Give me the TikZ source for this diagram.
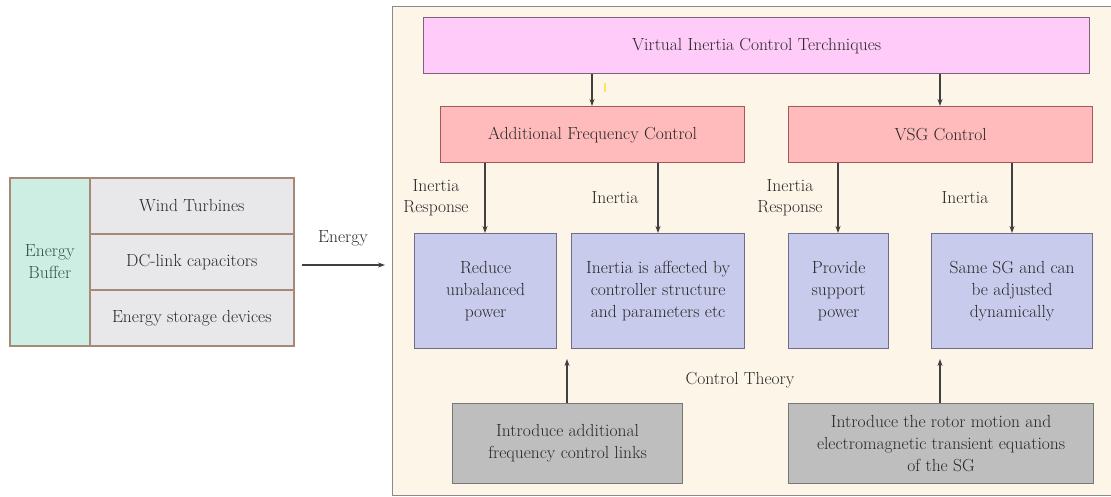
\documentclass[tikz,border=0pt]{standalone}
\usetikzlibrary{arrows.meta}
\definecolor{cream}{HTML}{FDF5E8}
\definecolor{outerline}{HTML}{8A8A8A}
\definecolor{topfill}{HTML}{FFCCF9}
\definecolor{topline}{HTML}{806080}
\definecolor{redfill}{HTML}{FFBBBB}
\definecolor{redline}{HTML}{A05A5A}
\definecolor{bluefill}{HTML}{C9CBEC}
\definecolor{blueline}{HTML}{6E6E8A}
\definecolor{grayfill}{HTML}{BEBEBE}
\definecolor{grayline}{HTML}{777777}
\definecolor{cellfill}{HTML}{E8E8EA}
\definecolor{cellline}{HTML}{A88878}
\definecolor{mint}{HTML}{CDEFE3}
\definecolor{txt}{HTML}{282828}
\definecolor{buftxt}{HTML}{2F5248}
\definecolor{arrowc}{HTML}{404040}
\tikzset{
  base/.style={draw, anchor=north west, align=center, inner sep=0pt, line width=1.2pt,
    font=\fontsize{17.5}{22}\selectfont, text=txt},
  outerbox/.style={base, draw=outerline, fill=cream, line width=1.3pt},
  topbox/.style={base, draw=topline, fill=topfill},
  redbox/.style={base, draw=redline, fill=redfill},
  bluebox/.style={base, draw=blueline, fill=bluefill},
  graybox/.style={base, draw=grayline, fill=grayfill},
  cellbox/.style={base, draw=cellline, fill=cellfill, line width=1.6pt},
  bufbox/.style={base, draw=cellline, fill=mint, line width=1.6pt, text=buftxt},
  lbl/.style={align=center, inner sep=0pt, font=\fontsize{17.5}{21}\selectfont, text=txt},
  arr/.style={draw=arrowc, line width=1.1pt, -{Stealth[length=7pt,width=5pt]}}
}
\begin{document}
\begin{tikzpicture}[x=1pt,y=-1pt]
\useasboundingbox (0,0) rectangle (1111,497);
\fill[white] (0,0) rectangle (1111,497);

% left table
\node[bufbox, minimum width=80pt, minimum height=168pt] (buf) at (9,177) {Energy\\Buffer};
\node[cellbox, minimum width=204pt, minimum height=56pt] (wt) at (89,177) {Wind Turbines};
\node[cellbox, minimum width=204pt, minimum height=56pt] (dc) at (89,233) {DC-link capacitors};
\node[cellbox, minimum width=204pt, minimum height=56pt] (es) at (89,289) {Energy storage devices};

% outer box
\node[outerbox, minimum width=724pt, minimum height=489pt] (outer) at (392,6) {};

% energy arrow
\coordinate (ey) at (0,265);
\draw[arr] ([xshift=7pt]dc.east |- ey) -- ([xshift=-7pt]outer.west |- ey);
\node[lbl] (energy) at (343,238) {Energy};

% top level
\node[topbox, minimum width=666pt, minimum height=56pt] (top) at (423,17) {Virtual Inertia Control Terchniques};
\node[redbox, minimum width=304pt, minimum height=56pt] (afc) at (440,106) {Additional Frequency Control};
\node[redbox, minimum width=304pt, minimum height=56pt] (vsg) at (788,106) {VSG Control};

% blue boxes
\node[bluebox, minimum width=142pt, minimum height=115pt] (b1) at (414,233) {Reduce\\unbalanced\\power};
\node[bluebox, minimum width=173pt, minimum height=115pt] (b2) at (571,233) {Inertia is affected by\\controller structure\\and parameters etc};
\node[bluebox, minimum width=100pt, minimum height=115pt] (b3) at (788,233) {Provide\\support\\power};
\node[bluebox, minimum width=161pt, minimum height=115pt] (b4) at (931,233) {Same SG and can\\be adjusted\\dynamically};

% gray boxes
\node[graybox, minimum width=230pt, minimum height=80pt] (g1) at (452,403) {Introduce additional\\frequency control links};
\node[graybox, minimum width=305pt, minimum height=80pt] (g2) at (788,403) {Introduce the rotor motion and\\electromagnetic transient equations\\of the SG};

% columns
\coordinate (c1) at (592,0);
\coordinate (c2) at (940,0);
\coordinate (c3) at (485,0);
\coordinate (c4) at (658,0);
\coordinate (c5) at (838,0);
\coordinate (c6) at (1012,0);
\coordinate (c7) at (567,0);
\coordinate (tipy) at (0,359);

\draw[arr] (top.south -| c1) -- (afc.north -| c1);
\draw[arr] (top.south -| c2) -- (vsg.north -| c2);
\draw[arr] (afc.south -| c3) -- (b1.north -| c3);
\draw[arr] (afc.south -| c4) -- (b2.north -| c4);
\draw[arr] (vsg.south -| c5) -- (b3.north -| c5);
\draw[arr] (vsg.south -| c6) -- (b4.north -| c6);

\coordinate (t1) at (c7 |- tipy);
\coordinate (t2) at (c2 |- tipy);
\draw[arr] (g1.north -| c7) -- (t1);
\draw[arr] (g2.north -| c2) -- (t2);

% labels
\node[lbl] (l1) at (436,198) {Inertia\\Response};
\node[lbl] (l2) at (615,198) {Inertia};
\node[lbl] (l3) at (790,198) {Inertia\\Response};
\node[lbl] (l4) at (965,198) {Inertia};
\node[lbl] (ct) at (740,380) {Control Theory};

% small yellow mark
\draw[yellow!80!orange, line width=1.5pt, opacity=0.6] (605,83) -- (605,92);
\end{tikzpicture}
\end{document}
